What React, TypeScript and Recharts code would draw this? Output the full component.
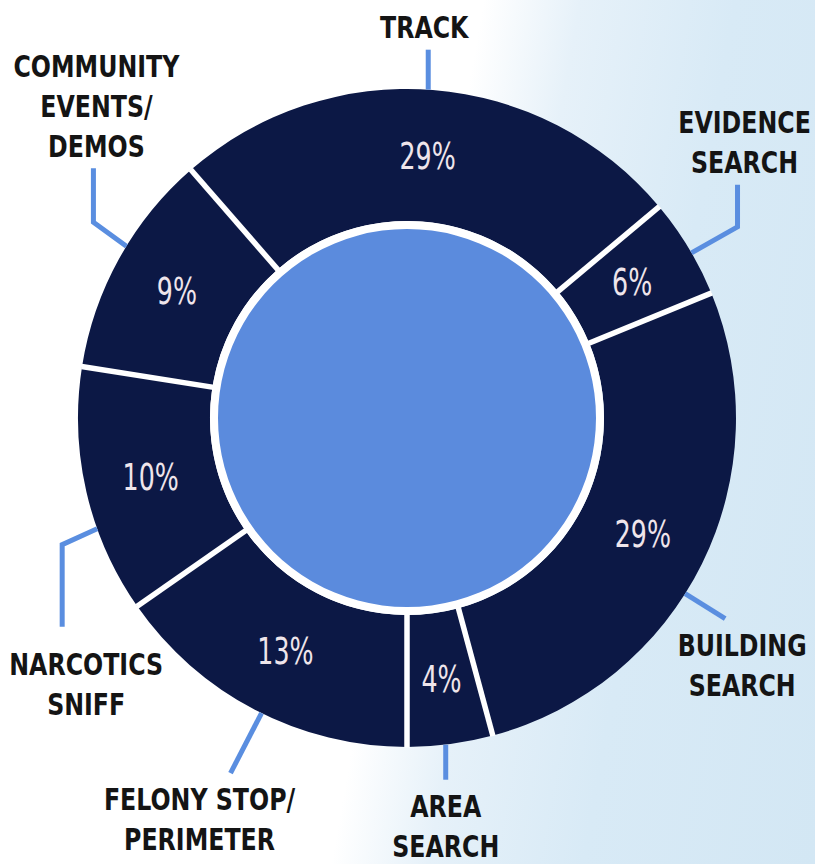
import React from 'react';
import { PieChart, Pie, Cell } from 'recharts';

// ---- data ----
const categories = [
  'Felony Stop/Perimeter',
  'Narcotics Sniff',
  'Community Events/Demos',
  'Track',
  'Evidence Search',
  'Building Search',
  'Area Search',
];
const categoryLines = [
  ['FELONY STOP/', 'PERIMETER'],
  ['NARCOTICS', 'SNIFF'],
  ['COMMUNITY', 'EVENTS/', 'DEMOS'],
  ['TRACK'],
  ['EVIDENCE', 'SEARCH'],
  ['BUILDING', 'SEARCH'],
  ['AREA', 'SEARCH'],
];
// printed percentage labels
const percentLabels = ['13%', '10%', '9%', '29%', '6%', '29%', '4%'];
// share of the ring as drawn in the picture (percent of 360°)
const arcShare = [15.3, 12.2, 11.1, 25.3, 4.9, 27.0, 4.2];

const data = categories.map((name, i) => ({
  name,
  share: arcShare[i],
  pct: percentLabels[i],
  lines: categoryLines[i],
}));
const centerData = [{ name: 'center', v: 1 }];

// ---- layout / style ----
const W = 815;
const H = 864;
const CX = 407;
const CY = 418;
const R_IN = 197;
const R_OUT = 329;
const NAVY = '#0c1845';
const LIGHT_BLUE = '#5b8bdd';
const LEADER = '#5a8ee0';
const PCT_COLOR = '#efe5eb';
const FONT = "'DejaVu Sans Condensed', 'DejaVu Sans', sans-serif";
const LINE_H = 40;
const CAT_SIZE = 31;
const CAT_SCALE = 0.85;
const PCT_SIZE = 37;
const PCT_SCALE = 0.76;

const labelLayout = [
  { nudge: 1.3, path: [[-31, 60]], text: [-31, 37] },
  { nudge: 6.7, path: [[-35, 16], [0, 82]], text: [24, 48] },
  { nudge: -2.5, path: [[-33, -24], [0, -54]], text: [3, -91] },
  { nudge: 0.8, path: [[0, -40]], text: [-4, -12] },
  { nudge: -1, path: [[46, -26], [0, -42]], text: [7, -52] },
  { nudge: -6, path: [[40, 25]], text: [17, 37] },
  { nudge: -0.8, path: [[0, 35]], text: [0, 37] },
];

const RAD = Math.PI / 180;

function renderLabel(props: any) {
  const { cx, cy, innerRadius, outerRadius, startAngle, endAngle, index } = props;
  const mid = (startAngle + endAngle) / 2;
  const pt = (r: number, a: number) => ({
    x: cx + r * Math.cos(-a * RAD),
    y: cy + r * Math.sin(-a * RAD),
  });
  const s0 = pt(innerRadius - 3, startAngle);
  const s1 = pt(outerRadius + 0.5, startAngle);
  const lay = labelLayout[index];
  const start = pt(outerRadius, mid + lay.nudge);
  const pts = [start];
  let cur = start;
  lay.path.forEach(([dx, dy]) => {
    cur = { x: cur.x + dx, y: cur.y + dy };
    pts.push(cur);
  });
  const mp = pt((innerRadius + outerRadius) / 2, mid);
  const tx = cur.x + lay.text[0];
  const ty = cur.y + lay.text[1];
  const d = data[index];
  return (
    <g key={`lbl-${index}`}>
      <line x1={s0.x} y1={s0.y} x2={s1.x} y2={s1.y} stroke="#ffffff" strokeWidth={5.5} />
      <polyline
        points={pts.map((p) => `${p.x},${p.y}`).join(' ')}
        fill="none"
        stroke={LEADER}
        strokeWidth={5}
        strokeLinejoin="miter"
      />
      <text
        transform={`translate(${mp.x},${mp.y}) scale(${PCT_SCALE},1)`}
        x={0}
        y={0}
        textAnchor="middle"
        dominantBaseline="central"
        fill={PCT_COLOR}
        fontFamily={FONT}
        fontSize={PCT_SIZE}
      >
        {d.pct}
      </text>
      <text
        transform={`translate(${tx},${ty}) scale(${CAT_SCALE},1)`}
        textAnchor="middle"
        fill="#141414"
        fontFamily={FONT}
        fontWeight="bold"
        fontSize={CAT_SIZE}
      >
        {d.lines.map((l, k) => (
          <tspan key={k} x={0} y={k * LINE_H}>
            {l}
          </tspan>
        ))}
      </text>
    </g>
  );
}

export default function App() {
  return (
    <div
      style={{
        position: 'absolute',
        left: 0,
        top: 0,
        width: W,
        height: H,
        overflow: 'hidden',
        background:
          'linear-gradient(100deg, #ffffff 0%, #ffffff 50%, #e6f1f9 60%, #d8eaf6 76%, #d3e7f4 100%)',
      }}
    >
      <PieChart width={W} height={H} margin={{ top: 0, right: 0, bottom: 0, left: 0 }}>
        <Pie
          data={data}
          dataKey="share"
          nameKey="name"
          cx={CX}
          cy={CY}
          innerRadius={R_IN}
          outerRadius={R_OUT}
          startAngle={270}
          endAngle={-90}
          stroke="none"
          label={renderLabel}
          labelLine={false}
          isAnimationActive={false}
        >
          {data.map((d, i) => (
            <Cell key={i} fill={NAVY} />
          ))}
        </Pie>
        <Pie
          data={centerData}
          dataKey="v"
          cx={CX}
          cy={CY}
          innerRadius={0}
          outerRadius={R_IN}
          stroke="none"
          fill="#ffffff"
          isAnimationActive={false}
        />
        <Pie
          data={centerData}
          dataKey="v"
          cx={CX}
          cy={CY}
          innerRadius={0}
          outerRadius={R_IN - 8}
          stroke="none"
          fill={LIGHT_BLUE}
          isAnimationActive={false}
        />
      </PieChart>
    </div>
  );
}
